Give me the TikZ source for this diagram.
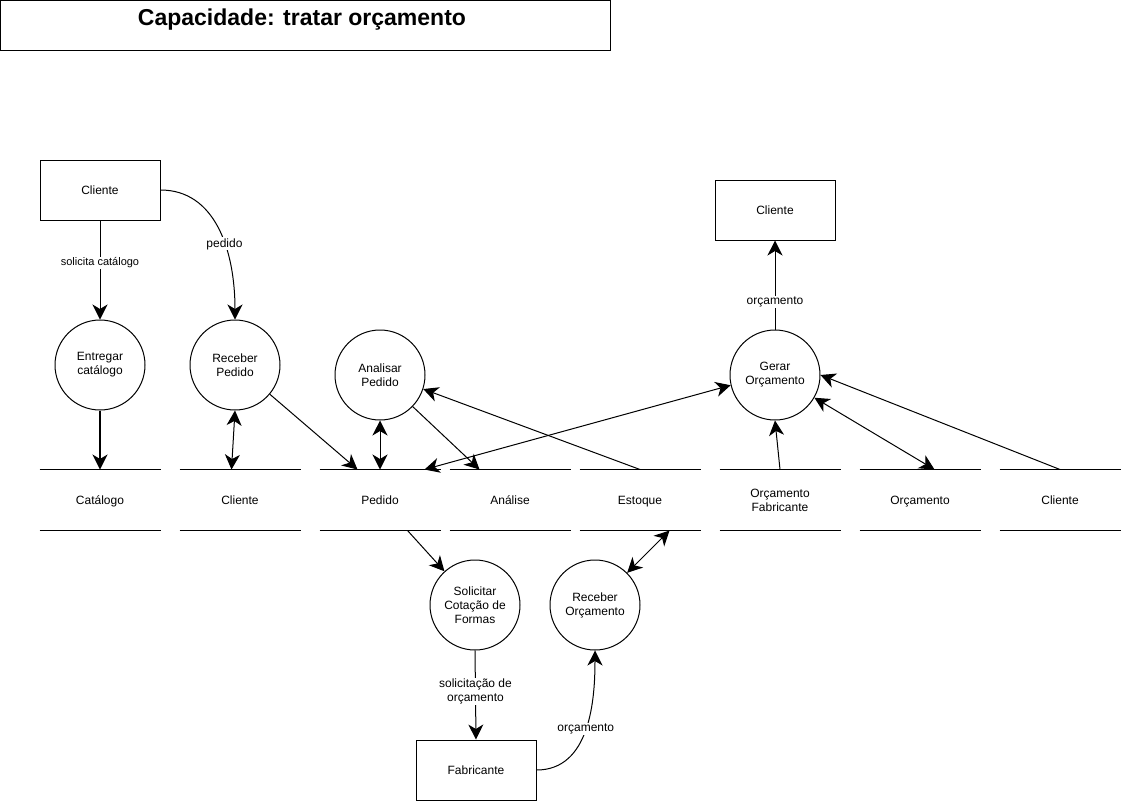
\documentclass[tikz,border=0pt]{standalone}
\usepackage{fontspec}
\setmainfont{Liberation Sans}
\usetikzlibrary{arrows.meta,calc}
\begin{document}
\begin{tikzpicture}[x=1pt,y=-1pt,line width=1pt,
  tip/.tip={Stealth[length=15pt,width=15pt,inset=4.5pt]},
  ent/.style={draw, minimum width=120pt, minimum height=60pt, inner sep=0pt, font=\fontsize{12}{14}\selectfont},
  proc/.style={draw, circle, minimum size=90pt, inner sep=0pt, align=center, font=\fontsize{12}{14}\selectfont},
  store/.style={minimum width=120pt, minimum height=60pt, inner sep=0pt, align=center, font=\fontsize{12}{14}\selectfont},
  store1/.style={store, text height=11pt, text depth=3pt},
  lbl/.style={fill=white, inner sep=1pt, align=center, font=\fontsize{12}{14}\selectfont},
  slbl/.style={lbl, font=\fontsize{11}{13}\selectfont},
  flow/.style={-tip},
  both/.style={tip-tip}]
\useasboundingbox (0,0) rectangle (1121,801);
% title
\draw (0.5,0.5) rectangle (610,50);
\node[font=\bfseries\fontsize{23}{26}\selectfont] (title) at (302,20) {Capacidade: tratar orçamento};
% entities
\node[ent] (cli1) at (100,190) {Cliente};
\node[ent] (cli2) at (775,210) {Cliente};
\node[ent] (fab) at (476,770) {Fabricante};
% processes
\node[proc] (entregar) at (100,365) {Entregar\\catálogo};
\node[proc] (receber) at (235,365) {Receber\\Pedido};
\node[proc] (analisar) at (380,375) {Analisar\\Pedido};
\node[proc] (gerar) at (775,375) {Gerar\\Orçamento};
\node[proc] (solic) at (475,605) {Solicitar\\Cotação de\\Formas};
\node[proc] (recorc) at (595,605) {Receber\\Orçamento};
% stores
\node[store1] (scat) at (100,500) {Catálogo};
\node[store1] (scli) at (240,500) {Cliente};
\node[store1] (spe) at (380,500) {Pedido};
\node[store1] (san) at (510,500) {Análise};
\node[store1] (sest) at (640,500) {Estoque};
\node[store] (sof) at (780,500) {Orçamento\\ Fabricante};
\node[store1] (sorc) at (920,500) {Orçamento};
\node[store1] (scl2) at (1060,500) {Cliente};
\foreach \s in {scat,scli,spe,san,sest,sof,sorc,scl2}{
  \draw (\s.north west) -- (\s.north east);
  \draw (\s.south west) -- (\s.south east);
}
% flows
\draw[flow] (cli1.south) -- node[slbl,pos=0.43]{solicita catálogo} (entregar.north);
\draw[flow] (cli1.east) .. controls (215,190) and (235,250) .. node[lbl,pos=0.6]{pedido} (receber.north);
\draw[flow,line width=1.6pt] (entregar.south) -- (scat.north);
\draw[both] (receber.south) -- ($(scli.north west)+(52,0)$);
\draw[flow] (receber.-40) -- ($(spe.north west)+(38,0)$);
\draw[both] (analisar.south) -- (spe.north);
\draw[flow] (analisar.-44) -- ($(san.north west)+(30,0)$);
\draw[flow] (sest.north) -- (analisar.-18);
\draw[both] ($(spe.north west)+(105,0)$) -- (gerar.193);
\draw[flow] (sof.north) -- (gerar.south);
\draw[both] (gerar.-30) -- ($(sorc.north west)+(75,0)$);
\draw[flow] (scl2.north) -- (gerar.east);
\draw[flow] (gerar.north) -- node[lbl,pos=0.31]{orçamento} (cli2.south);
\draw[flow] ($(spe.south west)+(88,0)$) -- (solic);
\draw[both] ($(sest.south west)+(90,0)$) -- (recorc);
\draw[flow] (solic.south) -- node[lbl,pos=0.46]{solicitação de\\orçamento} (fab.north);
\draw[flow] (fab.east) .. controls (590,770) and (595,700) .. node[lbl,pos=0.5]{orçamento} (recorc.south);
\end{tikzpicture}
\end{document}
